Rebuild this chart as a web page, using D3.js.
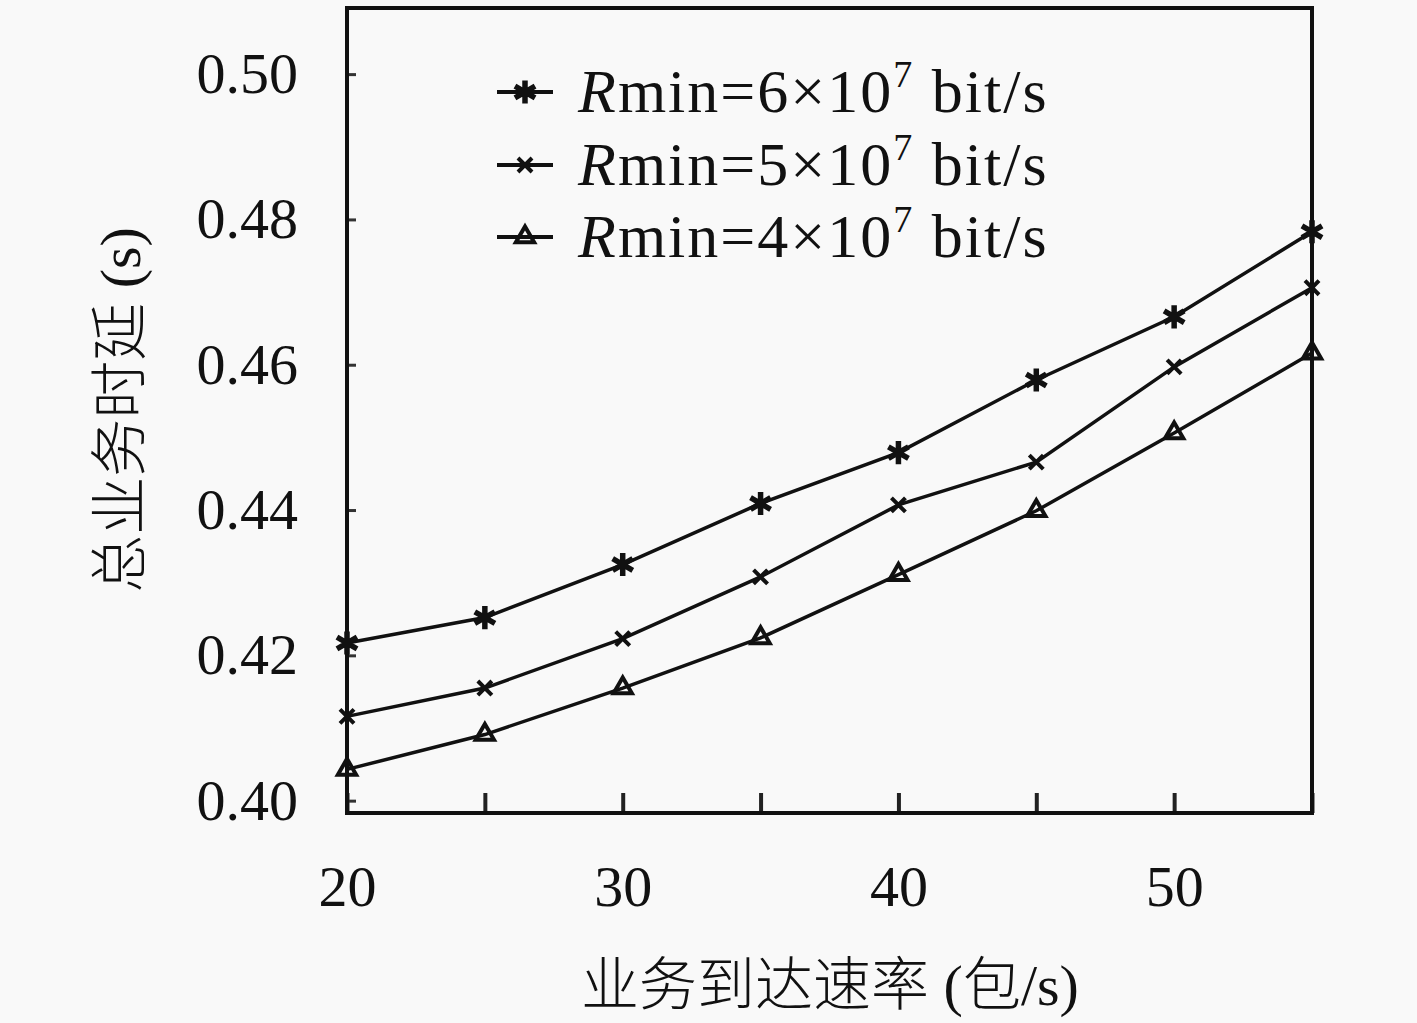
<!DOCTYPE html>
<html>
<head>
<meta charset="utf-8">
<script src="https://cdn.jsdelivr.net/npm/d3@7"></script>
<style>
  html, body { margin: 0; padding: 0; background: #f9f9f9; }
  svg { display: block; }
</style>
</head>
<body>
<div id="chart"></div>
<script>
// data
var rates = [20, 25, 30, 35, 40, 45, 50, 55];                                   // 业务到达速率 (包/s)
var delay6 = [0.4217, 0.4252, 0.4325, 0.4409, 0.4479, 0.4579, 0.4666, 0.4783];  // Rmin = 6e7
var delay5 = [0.4116, 0.4155, 0.4223, 0.4308, 0.4407, 0.4466, 0.4597, 0.4706];  // Rmin = 5e7
var delay4 = [0.4043, 0.4091, 0.4155, 0.4224, 0.4311, 0.4399, 0.4506, 0.4616];  // Rmin = 4e7
var seriesNames = ['6', '5', '4'];                                              // mantissa in legend
var xTicks = [20, 30, 40, 50];
var xMinorTicks = [20, 25, 30, 35, 40, 45, 50, 55];
var yTicks = [0.40, 0.42, 0.44, 0.46, 0.48, 0.50];

window.Chart = window.Chart || {};

Chart.init = function() {
    Chart.W = 1417;
    Chart.H = 1023;
    Chart.box = {left: 347, right: 1312, top: 8, bottom: 813};   // plot frame
    Chart.serif = '"Liberation Serif", "DejaVu Serif", serif';
    Chart.cjk = '"Liberation Serif", "Noto Sans CJK SC", serif';

    Chart.svg = d3.select('#chart').append('svg')
        .attr('width', Chart.W)
        .attr('height', Chart.H);
    Chart.svg.append('rect').attr('width', Chart.W).attr('height', Chart.H).attr('fill', '#f9f9f9');

    Chart.x = d3.scaleLinear().domain([20, 55]).range([Chart.box.left, Chart.box.right]);
    Chart.y = d3.scaleLinear().domain([0.3983, 0.5091]).range([Chart.box.bottom, Chart.box.top]);

    Chart.drawAxes();
    Chart.drawSeries();
    Chart.drawLegend();
    Chart.drawLabels();
};

Chart.drawAxes = function() {
    var b = Chart.box;

    // x axis: long ticks every 5, labels every 10
    var gx = Chart.svg.append('g').attr('transform', 'translate(0,' + b.bottom + ')');
    gx.call(d3.axisBottom(Chart.x).tickValues(xMinorTicks).tickSizeInner(-20).tickSizeOuter(0)
            .tickPadding(52).tickFormat(function(d) { return xTicks.indexOf(d) >= 0 ? d : ''; }));
    gx.select('.domain').remove();
    gx.selectAll('line').attr('stroke', '#222').attr('stroke-width', 4);
    gx.selectAll('text').attr('font-family', Chart.serif).attr('font-size', 58).attr('fill', '#111');

    // y axis: short inward ticks
    var gy = Chart.svg.append('g').attr('transform', 'translate(' + b.left + ',0)');
    gy.call(d3.axisLeft(Chart.y).tickValues(yTicks).tickSizeInner(-9).tickSizeOuter(0)
            .tickPadding(49).tickFormat(d3.format('.2f')));
    gy.select('.domain').remove();
    gy.selectAll('line').attr('stroke', '#333').attr('stroke-width', 3);
    gy.selectAll('text').attr('font-family', Chart.serif).attr('font-size', 58).attr('fill', '#111');

    // frame
    Chart.svg.append('rect')
        .attr('x', b.left).attr('y', b.top)
        .attr('width', b.right - b.left).attr('height', b.bottom - b.top)
        .attr('fill', 'none').attr('stroke', '#111').attr('stroke-width', 4);
};

Chart.symbols = [
    d3.symbol().type(d3.symbolAsterisk).size(380),
    d3.symbol().type(d3.symbolX).size(130),
    d3.symbol().type(d3.symbolTriangle2).size(240)
];

Chart.drawSeries = function() {
    var all = [delay6, delay5, delay4];
    var line = d3.line()
        .x(function(d, i) { return Chart.x(rates[i]); })
        .y(function(d) { return Chart.y(d); });

    all.forEach(function(vals, s) {
        var g = Chart.svg.append('g');
        g.append('path')
            .attr('d', line(vals))
            .attr('fill', 'none')
            .attr('stroke', '#111')
            .attr('stroke-width', 3.5);

        g.selectAll('path.mark').data(vals).enter().append('path')
            .attr('class', 'mark')
            .attr('transform', function(d, i) { return 'translate(' + Chart.x(rates[i]) + ',' + Chart.y(d) + ')'; })
            .attr('d', Chart.symbols[s])
            .attr('fill', 'none')
            .attr('stroke', '#111')
            .attr('stroke-width', s === 0 ? 5.5 : 4);
    });
};

Chart.drawLegend = function() {
    var rowY = [92, 165, 237];
    seriesNames.forEach(function(n, s) {
        var g = Chart.svg.append('g').attr('transform', 'translate(0,' + rowY[s] + ')');
        g.append('line').attr('x1', 497).attr('x2', 553).attr('y1', 0).attr('y2', 0)
            .attr('stroke', '#111').attr('stroke-width', 4);
        g.append('path').attr('transform', 'translate(525,0)').attr('d', Chart.symbols[s])
            .attr('fill', 'none').attr('stroke', '#111').attr('stroke-width', s === 0 ? 5.5 : 4);

        var t = g.append('text').attr('x', 578).attr('y', 20)
            .attr('font-family', Chart.serif).attr('font-size', 62)
            .attr('letter-spacing', 2).attr('fill', '#111');
        t.append('tspan').attr('font-style', 'italic').text('R');
        t.append('tspan').text('min=' + n + '×10');
        t.append('tspan').attr('font-size', 38).attr('dy', -25).text('7');
        t.append('tspan').attr('dy', 25).text('\u00a0bit/s');
    });
};

Chart.drawLabels = function() {
    Chart.svg.append('text')
        .attr('x', 830).attr('y', 1005)
        .attr('text-anchor', 'middle')
        .attr('font-family', Chart.cjk).attr('font-size', 58).attr('font-weight', 300).attr('fill', '#111')
        .text('业务到达速率 (包/s)');

    Chart.svg.append('text')
        .attr('transform', 'translate(140,410) rotate(-90)')
        .attr('text-anchor', 'middle')
        .attr('font-family', Chart.cjk).attr('font-size', 58).attr('font-weight', 300).attr('fill', '#111')
        .text('总业务时延 (s)');
};

document.addEventListener('DOMContentLoaded', Chart.init);
</script>
</body>
</html>
